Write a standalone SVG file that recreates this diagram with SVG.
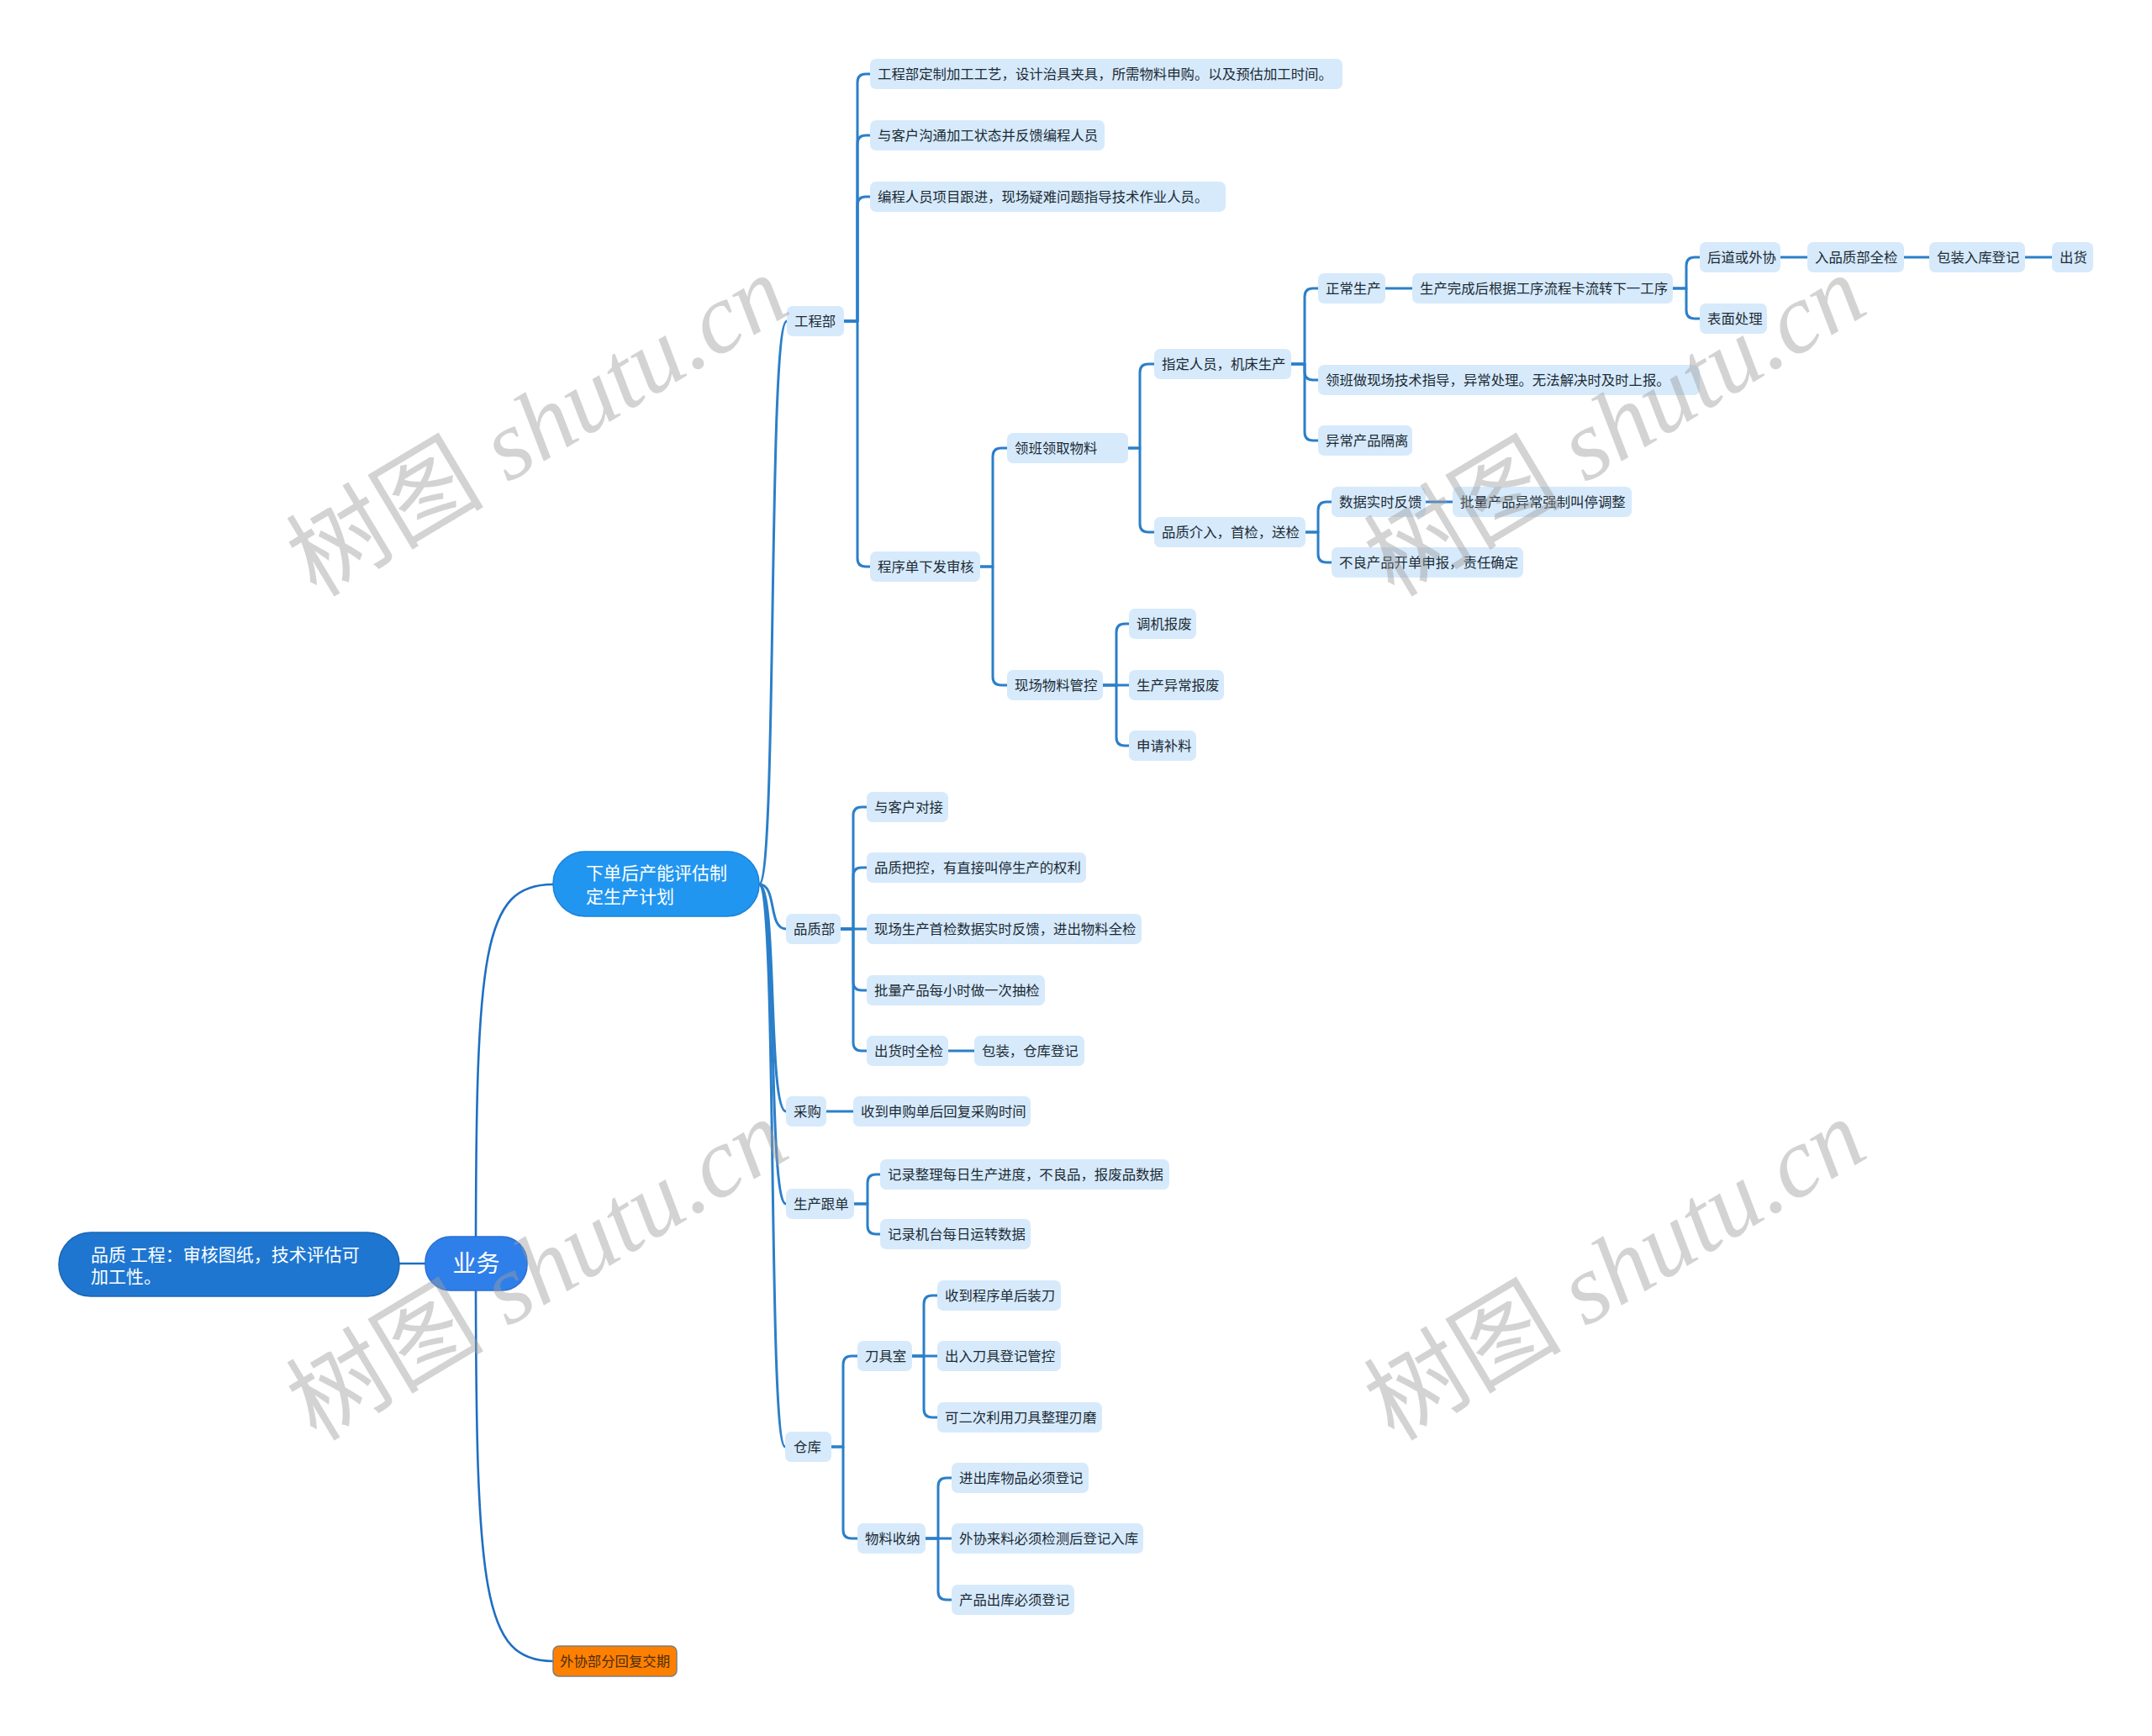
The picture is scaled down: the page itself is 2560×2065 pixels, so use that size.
<svg xmlns="http://www.w3.org/2000/svg" width="2560" height="2065" viewBox="0 0 2560 2065">
<style>
.c{fill:none;stroke:#2B7FC9;stroke-width:3;stroke-linecap:round;stroke-linejoin:round}
.cr{fill:none;stroke:#1E6FC2;stroke-width:2.6}
.n{fill:#D6EAFB}
.t{font-family:"Noto Sans CJK SC","Noto Sans",sans-serif;font-size:16.4px;fill:#1D2A36}
.w{font-family:"Noto Sans CJK SC","Noto Sans",sans-serif;fill:#FFFFFF}
.wm{font-family:"Liberation Serif","Noto Sans CJK SC",serif;font-size:118px;fill:#9E9E9E;fill-opacity:0.45}
</style>
<rect width="2560" height="2065" fill="#FFFFFF"/>
<g id="connectors">
<path class="cr" d="M475,1503 H520" stroke="#1D5C9C"/>
<path class="cr" d="M566,1503 C566,1130 574,1052 658,1052"/>
<path class="cr" d="M566,1503 C566,1895 574,1976 658,1976"/>
<path class="c" d="M903,1052 C925,1052 913,382 936,382"/>
<path class="c" d="M903,1052 C925,1052 913,1105 935,1105"/>
<path class="c" d="M903,1052 C925,1052 913,1322 935,1322"/>
<path class="c" d="M903,1052 C925,1052 913,1432 935,1432"/>
<path class="c" d="M903,1052 C925,1052 913,1721 934,1721"/>
<path class="c" d="M1004,382 H1020 V98 Q1020,88 1030,88 H1035"/>
<path class="c" d="M1004,382 H1020 V171 Q1020,161 1030,161 H1035"/>
<path class="c" d="M1004,382 H1020 V244 Q1020,234 1030,234 H1035"/>
<path class="c" d="M1004,382 H1020 V664 Q1020,674 1030,674 H1035"/>
<path class="c" d="M1166,674 H1181 V543 Q1181,533 1191,533 H1198"/>
<path class="c" d="M1166,674 H1181 V805 Q1181,815 1191,815 H1198"/>
<path class="c" d="M1342,533 H1356 V443 Q1356,433 1366,433 H1373"/>
<path class="c" d="M1342,533 H1356 V623 Q1356,633 1366,633 H1373"/>
<path class="c" d="M1536,433 H1552 V353 Q1552,343 1562,343 H1568"/>
<path class="c" d="M1536,433 H1552 V442 Q1552,452 1562,452 H1568"/>
<path class="c" d="M1536,433 H1552 V514 Q1552,524 1562,524 H1568"/>
<path class="c" d="M1648,343 H1680"/>
<path class="c" d="M1990,343 H2006 V316 Q2006,306 2016,306 H2022"/>
<path class="c" d="M1990,343 H2006 V369 Q2006,379 2016,379 H2022"/>
<path class="c" d="M2118,306 H2150"/>
<path class="c" d="M2265,306 H2295"/>
<path class="c" d="M2409,306 H2441"/>
<path class="c" d="M1553,633 H1568 V607 Q1568,597 1578,597 H1584"/>
<path class="c" d="M1553,633 H1568 V659 Q1568,669 1578,669 H1584"/>
<path class="c" d="M1696,597 H1728"/>
<path class="c" d="M1312,815 H1328 V752 Q1328,742 1338,742 H1343"/>
<path class="c" d="M1312,815 H1343"/>
<path class="c" d="M1312,815 H1328 V877 Q1328,887 1338,887 H1343"/>
<path class="c" d="M1000,1105 H1015 V970 Q1015,960 1025,960 H1031"/>
<path class="c" d="M1000,1105 H1015 V1042 Q1015,1032 1025,1032 H1031"/>
<path class="c" d="M1000,1105 H1031"/>
<path class="c" d="M1000,1105 H1015 V1168 Q1015,1178 1025,1178 H1031"/>
<path class="c" d="M1000,1105 H1015 V1240 Q1015,1250 1025,1250 H1031"/>
<path class="c" d="M1128,1250 H1159"/>
<path class="c" d="M983,1322 H1015"/>
<path class="c" d="M1016,1432 H1032 V1407 Q1032,1397 1042,1397 H1047"/>
<path class="c" d="M1016,1432 H1032 V1458 Q1032,1468 1042,1468 H1047"/>
<path class="c" d="M989,1721 H1003 V1623 Q1003,1613 1013,1613 H1020"/>
<path class="c" d="M989,1721 H1003 V1820 Q1003,1830 1013,1830 H1020"/>
<path class="c" d="M1085,1613 H1099 V1551 Q1099,1541 1109,1541 H1115"/>
<path class="c" d="M1085,1613 H1115"/>
<path class="c" d="M1085,1613 H1099 V1676 Q1099,1686 1109,1686 H1115"/>
<path class="c" d="M1101,1830 H1116 V1768 Q1116,1758 1126,1758 H1132"/>
<path class="c" d="M1101,1830 H1132"/>
<path class="c" d="M1101,1830 H1116 V1893 Q1116,1903 1126,1903 H1132"/>
</g>
<g id="n-root"><rect x="506" y="1471" width="121" height="64" rx="30" fill="#2F7FEA" stroke="#2A70D0" stroke-width="1.5"/><text x="566.5" y="1513" class="w" font-size="28" text-anchor="middle">业务</text></g>
<g id="n-left"><rect x="70" y="1466" width="405" height="76" rx="38" fill="#1E76D0" stroke="#1A65B3" stroke-width="1.5"/><text class="w" font-size="21"><tspan x="108" y="1500">品质 工程：审核图纸，技术评估可</tspan><tspan x="108" y="1526">加工性。</tspan></text></g>
<g id="n-plan"><rect x="658" y="1013" width="245" height="77" rx="38" fill="#2196F0" stroke="#1B82D8" stroke-width="1.5"/><text class="w" font-size="21"><tspan x="697" y="1046">下单后产能评估制</tspan><tspan x="697" y="1074">定生产计划</tspan></text></g>
<g id="n-outsource"><rect x="658" y="1958" width="147" height="36" rx="7" fill="#FF8000" stroke="#7D7D7D" stroke-width="1.5"/><text x="666" y="1982" class="t" style="fill:#4A2E10">外协部分回复交期</text></g>
<g id="n-gcb"><rect class="n" x="936" y="364" width="68" height="36" rx="7"/><text class="t" x="945" y="388">工程部</text></g>
<g id="n-pzb"><rect class="n" x="935" y="1087" width="65" height="36" rx="7"/><text class="t" x="944" y="1111">品质部</text></g>
<g id="n-cg"><rect class="n" x="935" y="1304" width="48" height="36" rx="7"/><text class="t" x="944" y="1328">采购</text></g>
<g id="n-scgd"><rect class="n" x="935" y="1414" width="81" height="36" rx="7"/><text class="t" x="944" y="1438">生产跟单</text></g>
<g id="n-ck"><rect class="n" x="934" y="1703" width="55" height="36" rx="7"/><text class="t" x="944" y="1727">仓库</text></g>
<g id="n-g1"><rect class="n" x="1035" y="70" width="562" height="36" rx="7"/><text class="t" x="1044" y="94">工程部定制加工工艺，设计治具夹具，所需物料申购。以及预估加工时间。</text></g>
<g id="n-g2"><rect class="n" x="1035" y="143" width="279" height="36" rx="7"/><text class="t" x="1044" y="167">与客户沟通加工状态并反馈编程人员</text></g>
<g id="n-g3"><rect class="n" x="1035" y="216" width="423" height="36" rx="7"/><text class="t" x="1044" y="240">编程人员项目跟进，现场疑难问题指导技术作业人员。</text></g>
<g id="n-g4"><rect class="n" x="1035" y="656" width="131" height="36" rx="7"/><text class="t" x="1044" y="680">程序单下发审核</text></g>
<g id="n-g41"><rect class="n" x="1198" y="515" width="144" height="36" rx="7"/><text class="t" x="1207" y="539">领班领取物料</text></g>
<g id="n-g42"><rect class="n" x="1198" y="797" width="114" height="36" rx="7"/><text class="t" x="1207" y="821">现场物料管控</text></g>
<g id="n-g411"><rect class="n" x="1373" y="415" width="163" height="36" rx="7"/><text class="t" x="1382" y="439">指定人员，机床生产</text></g>
<g id="n-g412"><rect class="n" x="1373" y="615" width="180" height="36" rx="7"/><text class="t" x="1382" y="639">品质介入，首检，送检</text></g>
<g id="n-zcsc"><rect class="n" x="1568" y="325" width="80" height="36" rx="7"/><text class="t" x="1577" y="349">正常生产</text></g>
<g id="n-scwc"><rect class="n" x="1680" y="325" width="310" height="36" rx="7"/><text class="t" x="1689" y="349">生产完成后根据工序流程卡流转下一工序</text></g>
<g id="n-hd"><rect class="n" x="2022" y="288" width="96" height="36" rx="7"/><text class="t" x="2031" y="312">后道或外协</text></g>
<g id="n-rpz"><rect class="n" x="2150" y="288" width="115" height="36" rx="7"/><text class="t" x="2159" y="312">入品质部全检</text></g>
<g id="n-bz"><rect class="n" x="2295" y="288" width="114" height="36" rx="7"/><text class="t" x="2304" y="312">包装入库登记</text></g>
<g id="n-ch"><rect class="n" x="2441" y="288" width="49" height="36" rx="7"/><text class="t" x="2450" y="312">出货</text></g>
<g id="n-bm"><rect class="n" x="2022" y="361" width="80" height="36" rx="7"/><text class="t" x="2031" y="385">表面处理</text></g>
<g id="n-lbz"><rect class="n" x="1568" y="434" width="454" height="36" rx="7"/><text class="t" x="1577" y="458">领班做现场技术指导，异常处理。无法解决时及时上报。</text></g>
<g id="n-yc"><rect class="n" x="1568" y="506" width="112" height="36" rx="7"/><text class="t" x="1577" y="530">异常产品隔离</text></g>
<g id="n-sj"><rect class="n" x="1584" y="579" width="112" height="36" rx="7"/><text class="t" x="1593" y="603">数据实时反馈</text></g>
<g id="n-pl"><rect class="n" x="1728" y="579" width="213" height="36" rx="7"/><text class="t" x="1737" y="603">批量产品异常强制叫停调整</text></g>
<g id="n-bl"><rect class="n" x="1584" y="651" width="228" height="36" rx="7"/><text class="t" x="1593" y="675">不良产品开单申报，责任确定</text></g>
<g id="n-tj"><rect class="n" x="1343" y="724" width="80" height="36" rx="7"/><text class="t" x="1352" y="748">调机报废</text></g>
<g id="n-scyc"><rect class="n" x="1343" y="797" width="113" height="36" rx="7"/><text class="t" x="1352" y="821">生产异常报废</text></g>
<g id="n-sq"><rect class="n" x="1343" y="869" width="80" height="36" rx="7"/><text class="t" x="1352" y="893">申请补料</text></g>
<g id="n-p1"><rect class="n" x="1031" y="942" width="97" height="36" rx="7"/><text class="t" x="1040" y="966">与客户对接</text></g>
<g id="n-p2"><rect class="n" x="1031" y="1014" width="261" height="36" rx="7"/><text class="t" x="1040" y="1038">品质把控，有直接叫停生产的权利</text></g>
<g id="n-p3"><rect class="n" x="1031" y="1087" width="327" height="36" rx="7"/><text class="t" x="1040" y="1111">现场生产首检数据实时反馈，进出物料全检</text></g>
<g id="n-p4"><rect class="n" x="1031" y="1160" width="212" height="36" rx="7"/><text class="t" x="1040" y="1184">批量产品每小时做一次抽检</text></g>
<g id="n-p5"><rect class="n" x="1031" y="1232" width="97" height="36" rx="7"/><text class="t" x="1040" y="1256">出货时全检</text></g>
<g id="n-p51"><rect class="n" x="1159" y="1232" width="131" height="36" rx="7"/><text class="t" x="1168" y="1256">包装，仓库登记</text></g>
<g id="n-cg1"><rect class="n" x="1015" y="1304" width="211" height="36" rx="7"/><text class="t" x="1024" y="1328">收到申购单后回复采购时间</text></g>
<g id="n-gd1"><rect class="n" x="1047" y="1379" width="344" height="36" rx="7"/><text class="t" x="1056" y="1403">记录整理每日生产进度，不良品，报废品数据</text></g>
<g id="n-gd2"><rect class="n" x="1047" y="1450" width="179" height="36" rx="7"/><text class="t" x="1056" y="1474">记录机台每日运转数据</text></g>
<g id="n-djs"><rect class="n" x="1020" y="1595" width="65" height="36" rx="7"/><text class="t" x="1029" y="1619">刀具室</text></g>
<g id="n-wlsn"><rect class="n" x="1020" y="1812" width="81" height="36" rx="7"/><text class="t" x="1029" y="1836">物料收纳</text></g>
<g id="n-d1"><rect class="n" x="1115" y="1523" width="147" height="36" rx="7"/><text class="t" x="1124" y="1547">收到程序单后装刀</text></g>
<g id="n-d2"><rect class="n" x="1115" y="1595" width="147" height="36" rx="7"/><text class="t" x="1124" y="1619">出入刀具登记管控</text></g>
<g id="n-d3"><rect class="n" x="1115" y="1668" width="196" height="36" rx="7"/><text class="t" x="1124" y="1692">可二次利用刀具整理刃磨</text></g>
<g id="n-w1"><rect class="n" x="1132" y="1740" width="163" height="36" rx="7"/><text class="t" x="1141" y="1764">进出库物品必须登记</text></g>
<g id="n-w2"><rect class="n" x="1132" y="1812" width="228" height="36" rx="7"/><text class="t" x="1141" y="1836">外协来料必须检测后登记入库</text></g>
<g id="n-w3"><rect class="n" x="1132" y="1885" width="146" height="36" rx="7"/><text class="t" x="1141" y="1909">产品出库必须登记</text></g>
<g id="watermarks">
<text class="wm" x="660" y="541" text-anchor="middle" transform="rotate(-31 660 541)">树图 <tspan font-style="italic">shutu.cn</tspan></text>
<text class="wm" x="660" y="1545" text-anchor="middle" transform="rotate(-31 660 1545)">树图 <tspan font-style="italic">shutu.cn</tspan></text>
<text class="wm" x="1942" y="541" text-anchor="middle" transform="rotate(-31 1942 541)">树图 <tspan font-style="italic">shutu.cn</tspan></text>
<text class="wm" x="1942" y="1545" text-anchor="middle" transform="rotate(-31 1942 1545)">树图 <tspan font-style="italic">shutu.cn</tspan></text>
</g>
</svg>
